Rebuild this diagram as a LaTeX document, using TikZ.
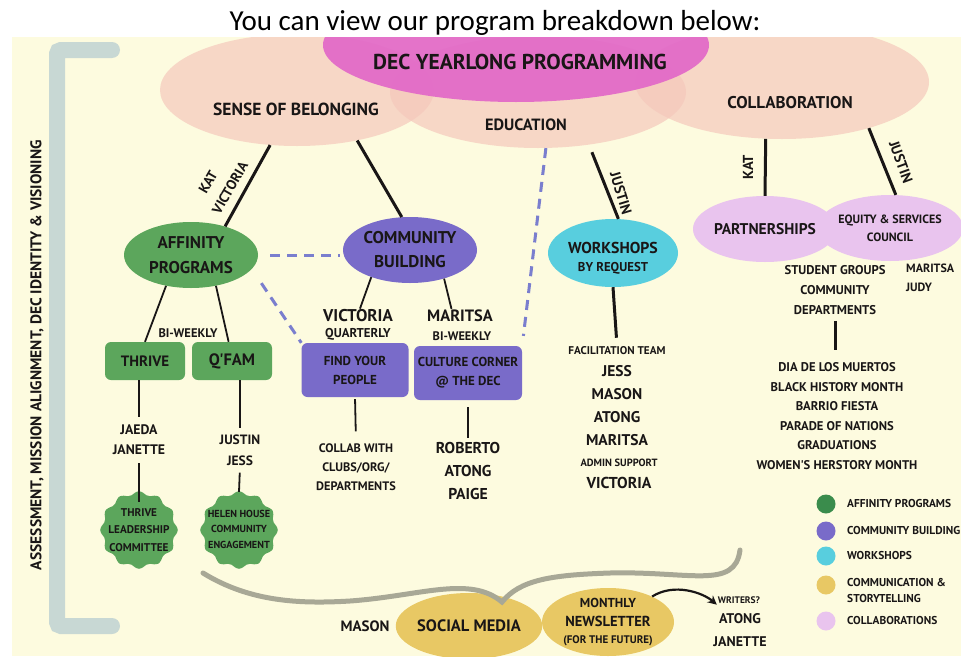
\documentclass[tikz,border=0pt]{standalone}
\usepackage{fontspec}
\setmainfont{Carlito}
\newfontfamily\dfont{PT Sans}
\usetikzlibrary{shapes.geometric,arrows.meta}

\definecolor{cream}{RGB}{253,251,223}
\definecolor{peach}{RGB}{245,200,188}
\definecolor{decpink}{RGB}{226,104,200}
\definecolor{affgreen}{RGB}{92,166,92}
\definecolor{keygreen}{RGB}{58,140,76}
\definecolor{compurple}{RGB}{121,107,201}
\definecolor{workcyan}{RGB}{88,206,222}
\definecolor{newsyellow}{RGB}{232,200,100}
\definecolor{collablav}{RGB}{233,196,238}
\definecolor{dashblue}{RGB}{122,126,206}
\definecolor{bracegray}{RGB}{168,168,150}
\definecolor{barblue}{RGB}{200,216,212}
\definecolor{ink}{RGB}{25,22,22}

\newcommand\dsize[2]{\dfont\bfseries\fontsize{#1}{#2}\selectfont}

\tikzset{
    lbl/.style 2 args={text=ink, inner sep=1pt, align=center, font=\dsize{#1}{#2}},
    bigarea/.style={ellipse, fill=peach, fill opacity=0.7, inner sep=0pt},
    progoval/.style={ellipse, inner sep=0pt, minimum width=134pt, minimum height=66pt},
    progbox/.style={rounded corners=6pt, inner sep=0pt, minimum width=80pt, minimum height=38pt},
    badge/.style={circle, inner sep=0pt, minimum size=74pt},
    solidlink/.style={draw=ink, line width=3pt},
    thinlink/.style={draw=ink, line width=1.8pt},
    dashlink/.style={draw=dashblue, line width=3pt, dash pattern=on 10pt off 7pt},
}

\begin{document}
\begin{tikzpicture}[x=1pt, y=-1pt]
    \useasboundingbox (0,0) rectangle (961,656);
    \node[font=\fontsize{29}{32}\selectfont, anchor=base, inner sep=0pt] (title) at (495,30) {You can view our program breakdown below:};

    \begin{scope}
        \clip (12,37) rectangle (961,656);
        \fill[cream] (12,37) rectangle (961,656);
        \draw[barblue, line width=16pt, line cap=round, rounded corners=4pt] (112,50) -- (57,50) -- (57,626) -- (112,626);
        \node[lbl={15.5}{17}, rotate=90] (vision) at (37,355) {ASSESSMENT, MISSION ALIGNMENT, DEC IDENTITY \& VISIONING};

        \node[bigarea, minimum width=274pt, minimum height=112pt] (sense) at (297,90) {};
        \node[bigarea, minimum width=296pt, minimum height=112pt] (edu) at (538,92) {};
        \node[bigarea, minimum width=294pt, minimum height=114pt] (collab) at (782,82) {};
        \node[ellipse, fill=decpink, fill opacity=0.92, minimum width=386pt, minimum height=114pt] (dec) at (516,45) {};
        \node[lbl={21.5}{24}] (dectxt) at (520,62) {DEC YEARLONG PROGRAMMING};
        \node[lbl={17.5}{20}] (sensetxt) at (296,109) {SENSE OF BELONGING};
        \node[lbl={16.3}{20}] (edutxt) at (526,125) {EDUCATION};
        \node[lbl={17}{20}] (collabtxt) at (790,103) {COLLABORATION};

        \node[lbl={17}{25}, progoval, fill=affgreen] (aff) at (191,255) {AFFINITY\\PROGRAMS};
        \node[lbl={17}{24}, progoval, fill=compurple] (comm) at (410,250) {COMMUNITY\\BUILDING};
        \node[lbl={15}{20}, progbox, fill=affgreen] (thrive) at (145,361) {THRIVE};
        \node[lbl={16.5}{20}, progbox, fill=affgreen] (qfam) at (232,361) {Q'FAM};
        \node[lbl={12.5}{14}] (biweekA) at (188,333) {BI-WEEKLY};
        \node[lbl={13.8}{20}] (tnames) at (139,440) {JAEDA\\JANETTE};
        \node[lbl={13.5}{21}] (qnames) at (240,450) {JUSTIN\\JESS};
        \foreach \bx in {139,239} {
            \fill[affgreen] plot[smooth cycle, domain=0:354, samples=60, variable=\a]
                ({\bx+(37+1.8*cos(12*\a))*cos(\a)}, {530+(37+1.8*cos(12*\a))*sin(\a)});
        }
        \node[lbl={11.2}{17.5}, badge] (tbadge) at (139,530) {THRIVE\\LEADERSHIP\\COMMITTEE};
        \node[lbl={10.2}{15.5}, badge] (qbadge) at (239,529) {HELEN HOUSE\\COMMUNITY\\ENGAGEMENT};

        \node[lbl={17}{20}] (vicname) at (358,316) {VICTORIA};
        \node[lbl={12.8}{14}] (vicfreq) at (358,334) {QUARTERLY};
        \node[lbl={16.4}{20}] (marname) at (460,316) {MARITSA};
        \node[lbl={12.4}{14}] (marfreq) at (462,336) {BI-WEEKLY};
        \node[lbl={13}{19}, progbox, fill=compurple, minimum width=107pt, minimum height=54pt] (find) at (355,370) {FIND YOUR\\PEOPLE};
        \node[lbl={13}{19}, progbox, fill=compurple, minimum width=108pt, minimum height=54pt] (culture) at (468,373) {CULTURE CORNER\\@ THE DEC};
        \node[lbl={12.3}{19}] (collabw) at (356,467) {COLLAB WITH\\CLUBS/ORG/\\DEPARTMENTS};
        \node[lbl={15.7}{23}] (cultnames) at (468,471) {ROBERTO\\ATONG\\PAIGE};

        \draw[solidlink] (sense.-116) -- (aff.40);
        \node[lbl={14}{16}, rotate=60] (katA) at (208,182) {KAT};
        \node[lbl={14}{16}, rotate=60] (vicA) at (230,188) {VICTORIA};
        \draw[solidlink] (sense.-40) -- (comm.104);
        \draw[thinlink] (aff.-129) -- (thrive.north);
        \draw[thinlink] (aff.-51) -- (qfam.100);
        \draw[thinlink, shorten >=7pt] (thrive.south -| tnames) -- (tnames.north);
        \draw[thinlink, shorten <=7pt, shorten >=-10pt] (tnames.south) -- (tbadge.north);
        \draw[thinlink, shorten >=5pt] (qfam.south -| qnames) -- (qnames.north);
        \draw[thinlink, shorten <=6pt] (qnames.south) -- (qbadge.north);
        \draw[thinlink] (comm.-145) -- (vicname.75);
        \draw[thinlink] (comm.-40) -- (marname.140);
        \draw[thinlink, shorten <=2pt, shorten >=11pt] (find.south) -- (collabw.north);
        \draw[thinlink, shorten <=7pt, shorten >=3pt] (culture.south) -- (cultnames.north);

        \draw[dashlink, shorten <=12pt, shorten >=3pt] (aff.east) -- (aff.east -| comm.west);
        \draw[dashlink, shorten <=17pt] (aff.-13) -- (find.north west);
        \draw[dashlink, shorten >=10pt] (edu.-82) -- (culture.north east);

        \node[progoval, fill=workcyan, minimum width=130pt, minimum height=68pt] (work) at (613,253) {};
        \node[lbl={15.8}{20}] (worktxt) at (613,248) {WORKSHOPS};
        \node[lbl={12.8}{14}] (workreq) at (613,268) {BY REQUEST};
        \draw[solidlink, shorten <=8pt] (edu.-46) -- (work.81);
        \node[lbl={14.5}{16}, rotate=-73] (justinA) at (621,193) {JUSTIN};
        \node[lbl={11.2}{12}] (team) at (617,351) {FACILITATION TEAM};
        \node[lbl={15.5}{23}] (teamnames) at (617,405.5) {JESS\\MASON\\ATONG\\MARITSA};
        \node[lbl={10.5}{12}] (admin) at (619,463) {ADMIN SUPPORT};
        \node[lbl={15.8}{20}] (adminname) at (619,483) {VICTORIA};
        \draw[solidlink, shorten >=8pt] (work.south) -- (team.north);

        \node[lbl={15.5}{20}, progoval, fill=collablav, minimum width=130pt] (part) at (765,229) {PARTNERSHIPS};
        \node[lbl={12}{18}, progoval, fill=collablav] (equity) at (890,228) {EQUITY \& SERVICES\\COUNCIL};
        \draw[solidlink] (collab.-106) -- (part.north);
        \node[lbl={14.5}{16}, rotate=90] (katB) at (748,167) {KAT};
        \draw[solidlink] (collab.-28) -- (equity.80);
        \node[lbl={14.5}{16}, rotate=-70] (justinB) at (901,162) {JUSTIN};
        \node[lbl={12.7}{20}] (sg) at (835,290) {STUDENT GROUPS\\COMMUNITY\\DEPARTMENTS};
        \node[lbl={12}{19}, align=left, anchor=west] (esnames) at (905,278) {MARITSA\\JUDY};
        \node[lbl={12.6}{19.6}] (events) at (837,416) {DIA DE LOS MUERTOS\\BLACK HISTORY MONTH\\BARRIO FIESTA\\PARADE OF NATIONS\\GRADUATIONS\\WOMEN'S HERSTORY MONTH};
        \draw[solidlink, shorten <=5pt, shorten >=11pt] (sg.south) -- (sg.south |- events.north);

        \foreach \col/\yy/\keytext in {keygreen/504/AFFINITY PROGRAMS, compurple/531/COMMUNITY BUILDING, workcyan/556/WORKSHOPS, collablav/621/COLLABORATIONS} {
            \fill[\col] (826,\yy) circle (9.5);
            \node[lbl={11.4}{14}, anchor=west] (key\yy) at (846,\yy) {\keytext};
        }
        \fill[newsyellow] (826,585) circle (9.5);
        \node[lbl={11.4}{16}, align=left, anchor=north west] (key585) at (846,577) {COMMUNICATION \&\\STORYTELLING};

        \node[lbl={16.5}{20}, progoval, fill=newsyellow, minimum width=132pt] (social) at (469,626) {SOCIAL MEDIA};
        \node[lbl={15}{18}] (mason) at (365,626) {MASON};
        \node[progoval, fill=newsyellow, minimum width=132pt, minimum height=68pt] (news) at (608,622) {};
        \node[lbl={13}{16}] (newsA) at (608,603) {MONTHLY};
        \node[lbl={14.5}{20}] (newsB) at (608,621) {NEWSLETTER};
        \node[lbl={11}{12}] (newsC) at (608,641) {(FOR THE FUTURE)};
        \node[lbl={9.5}{12}] (writers) at (739,600) {WRITERS?};
        \node[lbl={14}{22.5}] (wnames) at (740,630) {ATONG\\JANETTE};
        \draw[ink, line width=2.2pt, -{Stealth[length=9pt, width=9pt]}] (news.30) .. controls +(22,-14) and +(-14,-12) .. (writers.south west);

        \draw[bracegray, line width=5pt, line cap=round] (203,573) .. controls (250,602) and (300,604) .. (350,601) .. controls (420,596) and (470,575) .. (502,602) .. controls (520,580) and (550,575) .. (610,573) .. controls (690,571) and (735,590) .. (740,550);
    \end{scope}
\end{tikzpicture}
\end{document}
